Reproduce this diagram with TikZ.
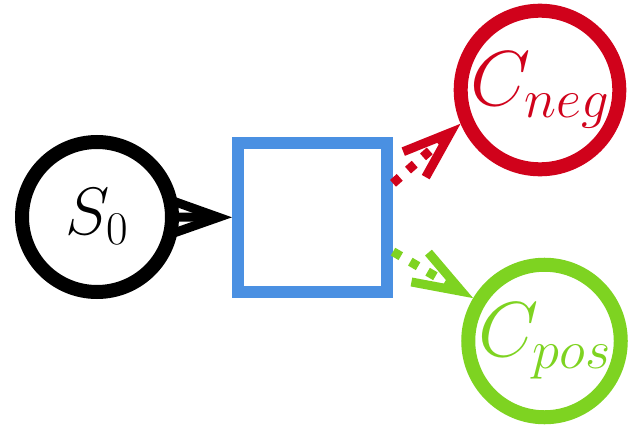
\RequirePackage{fix-cm}
\documentclass[tikz,border=0pt]{standalone}
\usepackage{tikz}
\usetikzlibrary{arrows.meta}
\definecolor{negred}{RGB}{208,2,27}
\definecolor{posgreen}{RGB}{126,211,33}
\definecolor{boxblue}{RGB}{74,144,226}

\begin{document}
\begin{tikzpicture}[x=1pt,y=-1pt,
       state/.style={circle,draw,line width=14pt,minimum size=150pt,inner sep=0pt},
       link/.style={line width=9pt,-{Straight Barb[length=48pt,width=34pt,sharp]}},
       dots/.style={dash pattern=on 9pt off 11pt}]
       \useasboundingbox (0,0) rectangle (640,428);
       \node[state] (s0) at (97,217) {\fontsize{67}{70}\selectfont $S_0$};
       \node[draw=boxblue,line width=12pt,minimum size=149pt,inner sep=0pt] (sq) at (312.5,217.5) {};
       \node[state,draw=negred,text=negred] (cneg) at (540,90) {\fontsize{78}{80}\selectfont $C_{neg}$};
       \node[state,draw=posgreen,text=posgreen] (cpos) at (544.5,341) {\fontsize{78}{80}\selectfont $C_{pos}$};
       \draw[link] (s0) -- (sq); \draw[link,negred,dots] (sq.23.5) -- (cneg.203);
       \draw[link,posgreen,dots] (sq.-23.5) -- (cpos.149.5);
\end{tikzpicture}
\end{document}
